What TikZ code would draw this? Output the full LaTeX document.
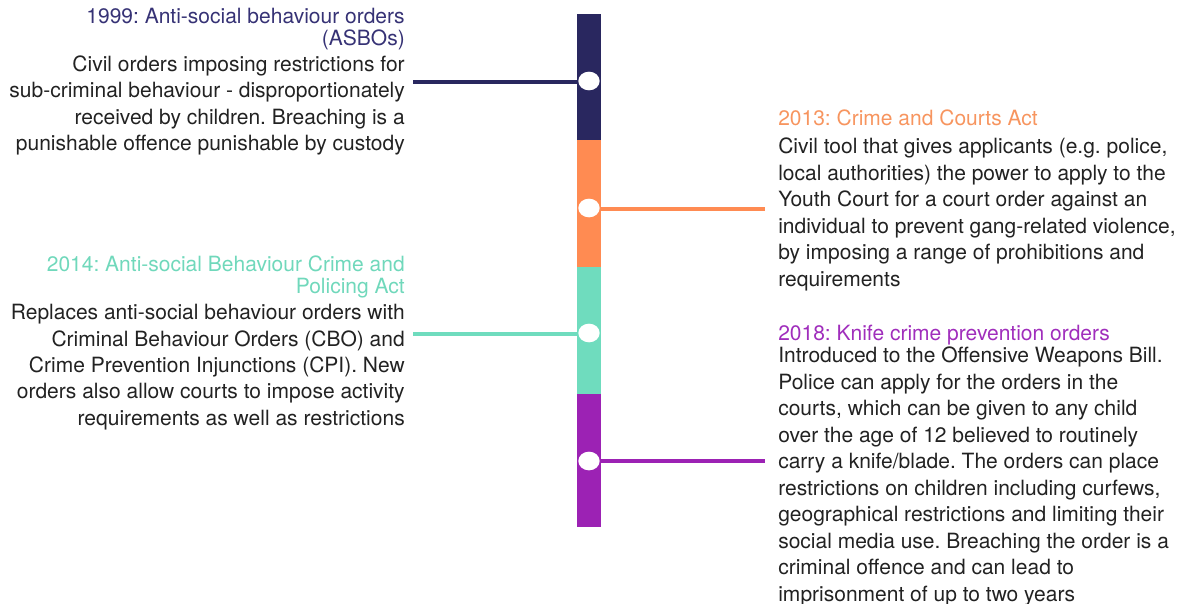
\documentclass[tikz,border=0pt]{standalone}
\usepackage{fontspec}
\setmainfont{TeX Gyre Heros}
\frenchspacing
\definecolor{cnavy}{HTML}{29275F}
\definecolor{corange}{HTML}{FF8B52}
\definecolor{cteal}{HTML}{6FDCBE}
\definecolor{cpurple}{HTML}{9C22B4}
\definecolor{hnavy}{HTML}{363275}
\definecolor{horange}{HTML}{F7955F}
\definecolor{hteal}{HTML}{70D8BB}
\definecolor{hpurple}{HTML}{A02EBC}
\definecolor{bodytxt}{HTML}{222222}
\tikzset{
  headL/.style={anchor=north east, inner sep=0pt, align=right, font=\frenchspacing\fontsize{15.75}{16.5}\selectfont},
  headR/.style={anchor=north west, inner sep=0pt, align=left, font=\frenchspacing\fontsize{15.75}{16.5}\selectfont},
  bodyL/.style={anchor=north east, inner sep=0pt, align=right, text=bodytxt, font=\frenchspacing\fontsize{15.75}{19.85}\selectfont},
  bodyR/.style={anchor=north west, inner sep=0pt, align=left, text=bodytxt, font=\frenchspacing\fontsize{15.75}{19.85}\selectfont},
  dot/.style={ellipse, fill=white, inner sep=0pt, minimum width=16, minimum height=14},
  conn/.style={line width=3pt},
}
\usetikzlibrary{shapes.geometric}
\begin{document}
\begin{tikzpicture}[x=0.75pt, y=-0.75pt]
\useasboundingbox (0,0) rectangle (1183,604);
% timeline bar
\fill[cnavy] (577,14) rectangle (601,140);
\fill[corange] (577,140) rectangle (601,267);
\fill[cteal] (577,267) rectangle (601,394);
\fill[cpurple] (577,394) rectangle (601,527);
% end points of connectors
\coordinate (e1) at (413,82);
\coordinate (e2) at (765,209);
\coordinate (e3) at (413,334);
\coordinate (e4) at (765,461);
\node[dot] (d1) at (589,81) {};
\node[dot] (d2) at (589,208) {};
\node[dot] (d3) at (589,333) {};
\node[dot] (d4) at (589,461) {};
\draw[conn, cnavy] (e1) -- (d1.west |- e1);
\draw[conn, corange] (d2.east |- e2) -- (e2);
\draw[conn, cteal] (e3) -- (d3.west |- e3);
\draw[conn, cpurple] (d4.east |- e4) -- (e4);
% texts
\node[headL, text=hnavy] (h1) at (405,8) {1999: Anti-social behaviour orders\\(ASBOs)};
\node[bodyL] (b1) at (405,55.5) {Civil orders imposing restrictions for\\sub-criminal behaviour - disproportionately\\received by children. Breaching is a\\punishable offence punishable by custody};
\node[headR, text=horange] (h2) at (778,110) {2013: Crime and Courts Act};
\node[bodyR] (b2) at (778,138) {Civil tool that gives applicants (e.g. police,\\local authorities) the power to apply to the\\Youth Court for a court order against an\\individual to prevent gang-related violence,\\by imposing a range of prohibitions and\\requirements};
\node[headL, text=hteal] (h3) at (405,255.5) {2014: Anti-social Behaviour Crime and\\Policing Act};
\node[bodyL] (b3) at (405,304) {Replaces anti-social behaviour orders with\\Criminal Behaviour Orders (CBO) and\\Crime Prevention Injunctions (CPI). New\\orders also allow courts to impose activity\\requirements as well as restrictions};
\node[headR, text=hpurple] (h4) at (778,325) {2018: Knife crime prevention orders};
\node[bodyR] (b4) at (778,347) {Introduced to the Offensive Weapons Bill.\\Police can apply for the orders in the\\courts, which can be given to any child\\over the age of 12 believed to routinely\\carry a knife/blade. The orders can place\\restrictions on children including curfews,\\geographical restrictions and limiting their\\social media use. Breaching the order is a\\criminal offence and can lead to\\imprisonment of up to two years};
\end{tikzpicture}
\end{document}
